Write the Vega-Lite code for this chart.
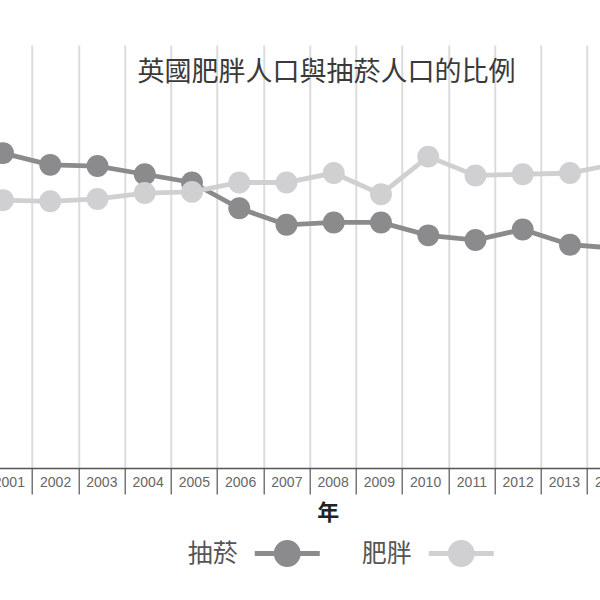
{
  "$schema": "https://vega.github.io/schema/vega-lite/v6.json",
  "autosize": {"type": "none"},
  "width": 647.5,
  "height": 423,
  "padding": {"left": -14.25, "top": 45, "right": -33.25, "bottom": 132},
  "background": "white",
  "config": {"view": {"stroke": null}, "font": "Noto Sans CJK TC"},
  "title": {
    "text": "英國肥胖人口與抽菸人口的比例",
    "fontSize": 27,
    "fontWeight": "normal",
    "color": "#3a3a3a",
    "font": "Noto Sans CJK TC",
    "anchor": "middle",
    "dx": 17,
    "offset": -42
  },
  "data": {
    "values": [
      {"year": 2001, "series": "抽菸", "value": 26.8},
      {"year": 2002, "series": "抽菸", "value": 25.8},
      {"year": 2003, "series": "抽菸", "value": 25.7},
      {"year": 2004, "series": "抽菸", "value": 25.0},
      {"year": 2005, "series": "抽菸", "value": 24.3},
      {"year": 2006, "series": "抽菸", "value": 22.1},
      {"year": 2007, "series": "抽菸", "value": 20.7},
      {"year": 2008, "series": "抽菸", "value": 20.9},
      {"year": 2009, "series": "抽菸", "value": 20.9},
      {"year": 2010, "series": "抽菸", "value": 19.8},
      {"year": 2011, "series": "抽菸", "value": 19.4},
      {"year": 2012, "series": "抽菸", "value": 20.3},
      {"year": 2013, "series": "抽菸", "value": 19.0},
      {"year": 2014, "series": "抽菸", "value": 18.7},
      {"year": 2001, "series": "肥胖", "value": 22.8},
      {"year": 2002, "series": "肥胖", "value": 22.7},
      {"year": 2003, "series": "肥胖", "value": 22.9},
      {"year": 2004, "series": "肥胖", "value": 23.4},
      {"year": 2005, "series": "肥胖", "value": 23.5},
      {"year": 2006, "series": "肥胖", "value": 24.3},
      {"year": 2007, "series": "肥胖", "value": 24.3},
      {"year": 2008, "series": "肥胖", "value": 25.1},
      {"year": 2009, "series": "肥胖", "value": 23.3},
      {"year": 2010, "series": "肥胖", "value": 26.5},
      {"year": 2011, "series": "肥胖", "value": 24.9},
      {"year": 2012, "series": "肥胖", "value": 25.0},
      {"year": 2013, "series": "肥胖", "value": 25.1},
      {"year": 2014, "series": "肥胖", "value": 25.9}
    ]
  },
  "layer": [
    {
      "mark": {"type": "point", "opacity": 0},
      "encoding": {
        "x": {
          "field": "year",
          "type": "ordinal",
          "scale": {"type": "band", "paddingInner": 0, "paddingOuter": 0},
          "axis": {
            "title": "年",
            "titleFont": "Noto Sans CJK TC",
            "titleFontSize": 22,
            "titleFontWeight": "bold",
            "titleColor": "#222",
            "titleX": 342,
            "titlePadding": 8,
            "labelAngle": 0,
            "labelFont": "Liberation Sans",
            "labelFontSize": 14,
            "labelColor": "#666",
            "labelPadding": -19,
            "labelBaseline": "top",
            "tickBand": "extent",
            "tickSize": 26,
            "tickColor": "#777",
            "tickWidth": 1.5,
            "domainColor": "#555",
            "domainWidth": 1.5,
            "grid": true,
            "gridColor": "#dcdcdc",
            "gridWidth": 2
          }
        },
        "y": {"field": "value", "type": "quantitative", "scale": {"domain": [0, 36]}, "axis": null}
      }
    },
    {
      "mark": {"type": "line", "strokeWidth": 4.8},
      "encoding": {
        "x": {"field": "year", "type": "quantitative", "scale": {"domain": [2000.635, 2014.339], "nice": false, "zero": false}, "axis": null},
        "y": {"field": "value", "type": "quantitative", "scale": {"domain": [0, 36]}, "axis": null},
        "color": {"field": "series", "type": "nominal", "scale": {"domain": ["抽菸", "肥胖"], "range": ["#8b8b8d", "#d0d0d2"]}}
      }
    },
    {
      "mark": {"type": "point", "filled": true, "opacity": 1, "size": 480},
      "encoding": {
        "x": {"field": "year", "type": "quantitative", "scale": {"domain": [2000.635, 2014.339], "nice": false, "zero": false}, "axis": null},
        "y": {"field": "value", "type": "quantitative", "scale": {"domain": [0, 36]}, "axis": null},
        "color": {
          "field": "series",
          "type": "nominal",
          "scale": {"domain": ["抽菸", "肥胖"], "range": ["#8b8b8d", "#d0d0d2"]},
          "legend": {
            "title": null,
            "orient": "none",
            "direction": "horizontal",
            "legendX": 269,
            "legendY": 476,
            "padding": 0,
            "symbolType": "M-1,-0.077L1,-0.077L1,0.077L-1,0.077Z M-0.415,0A0.415,0.415 0 1,1 0.415,0A0.415,0.415 0 1,1 -0.415,0Z",
            "symbolSize": 4225,
            "symbolStrokeWidth": 0,
            "symbolOpacity": 1,
            "labelFont": "Noto Sans CJK TC",
            "labelFontSize": 25,
            "labelColor": "#555",
            "labelAlign": "right",
            "labelOffset": -82,
            "columnPadding": 41,
            "encode": {"symbols": {"update": {"fill": {"scale": "color", "field": "value"}, "opacity": {"value": 1}}}}
          }
        }
      }
    }
  ],
  "resolve": {"scale": {"x": "independent"}}
}
